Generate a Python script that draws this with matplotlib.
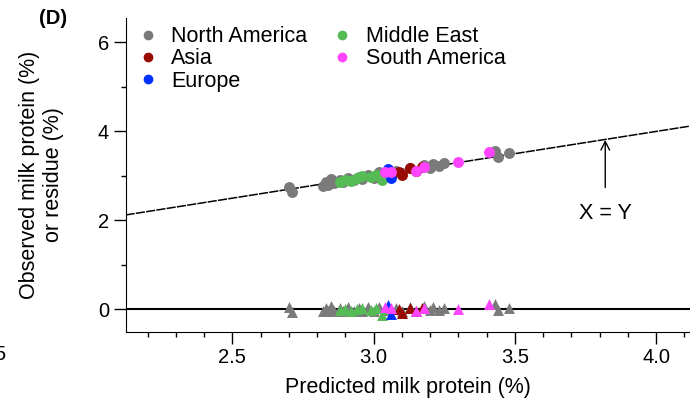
import matplotlib
matplotlib.use("Agg")
import matplotlib.pyplot as plt
from matplotlib.lines import Line2D
from matplotlib.ticker import MultipleLocator
import numpy as np

plt.rcParams['font.family'] = ['Liberation Sans', 'DejaVu Sans']

# predicted vs observed milk protein (%) per region
regions = ["North America", "Asia", "Europe", "Middle East", "South America"]
colors = ["#7a7a7a", "#990a00", "#0030ff", "#55bb55", "#ff44ff"]

pred_na = [2.70, 2.71, 2.82, 2.83, 2.84, 2.85, 2.86, 2.88, 2.89, 2.91, 2.93, 2.95, 2.96,
           2.98, 3.00, 3.02, 3.04, 3.08, 3.10, 3.13, 3.15, 3.18, 3.20, 3.21, 3.23, 3.25,
           3.43, 3.44, 3.48]
obs_na = [2.76, 2.64, 2.78, 2.86, 2.80, 2.93, 2.83, 2.90, 2.86, 2.96, 2.90, 2.98, 2.92,
          3.03, 2.96, 3.08, 3.02, 3.12, 3.06, 3.18, 3.12, 3.25, 3.18, 3.26, 3.22, 3.28,
          3.56, 3.42, 3.51]

pred_asia = [3.09, 3.10, 3.13, 3.15, 3.17]
obs_asia = [3.09, 3.01, 3.17, 3.12, 3.19]

pred_eu = [3.05, 3.06]
obs_eu = [3.15, 2.95]

pred_me = [2.88, 2.90, 2.92, 2.94, 2.96, 2.99, 3.01, 3.03, 3.04]
obs_me = [2.87, 2.90, 2.89, 2.95, 2.99, 2.98, 3.03, 2.90, 3.05]

pred_sa = [3.04, 3.06, 3.15, 3.18, 3.30, 3.41]
obs_sa = [3.09, 3.09, 3.12, 3.21, 3.31, 3.53]

fig = plt.figure(figsize=(6.9, 4.0), dpi=100)
ax = fig.add_axes([0.182, 0.171, 0.818, 0.784])

series = [(pred_na, obs_na, colors[0]), (pred_me, obs_me, colors[3]),
          (pred_eu, obs_eu, colors[2]), (pred_asia, obs_asia, colors[1]),
          (pred_sa, obs_sa, colors[4])]

# residuals first, then observed values
for pred, obs, c in series:
    res = np.array(obs) - np.array(pred)
    ax.scatter(pred, res, s=62, marker='^', color=c, linewidths=0, zorder=3)
for pred, obs, c in series:
    ax.scatter(pred, obs, s=62, marker='o', color=c, linewidths=0, zorder=3)

ax.set_xlim(2.122, 4.12)
ax.set_ylim(-0.5, 6.55)

xx = np.array(ax.get_xlim())
ax.plot(xx, xx, color='black', lw=1.1, ls=(0, (6, 0.8)), zorder=2)
ax.axhline(0, color='black', lw=1.5, zorder=2)

ax.annotate("X = Y", xy=(3.82, 3.81), xytext=(3.82, 2.16), ha='center', va='center',
            fontsize=15.5, arrowprops=dict(arrowstyle='->', color='black', lw=1,
                                           shrinkA=9, shrinkB=0))

ax.spines['top'].set_visible(False)
ax.spines['right'].set_visible(False)
ax.xaxis.set_major_locator(MultipleLocator(0.5))
ax.xaxis.set_minor_locator(MultipleLocator(0.1))
ax.yaxis.set_major_locator(MultipleLocator(2))
ax.yaxis.set_minor_locator(MultipleLocator(1))
ax.set_xticks([2.5, 3.0, 3.5, 4.0])
ax.set_xticklabels(["2.5", "3.0", "3.5", "4.0"])
ax.tick_params(which='major', length=8.5, width=1, labelsize=14.5, direction='out')
ax.tick_params(which='minor', length=3.8, width=1, direction='out')

ax.set_xlabel("Predicted milk protein (%)", fontsize=15.5, labelpad=7)
ax.set_ylabel("Observed milk protein (%)\nor residue (%)", fontsize=15.5, labelpad=24)

handles = [Line2D([], [], marker='o', ls='none', color=c, markersize=6) for c in colors]
ax.legend(handles, regions, loc='upper left', bbox_to_anchor=(-0.018, 1.035), ncol=2,
          frameon=False, fontsize=15.5, handletextpad=0.5, columnspacing=1.0,
          labelspacing=0.05, handlelength=1.2)

fig.text(53 / 690, 1 - 18 / 400, "(D)", fontsize=14.5, fontweight='bold',
         ha='center', va='center')
fig.text(5 / 690, 1 - 354 / 400, "5", fontsize=14.5, ha='right', va='center')

fig.savefig("out.png", dpi=100)
